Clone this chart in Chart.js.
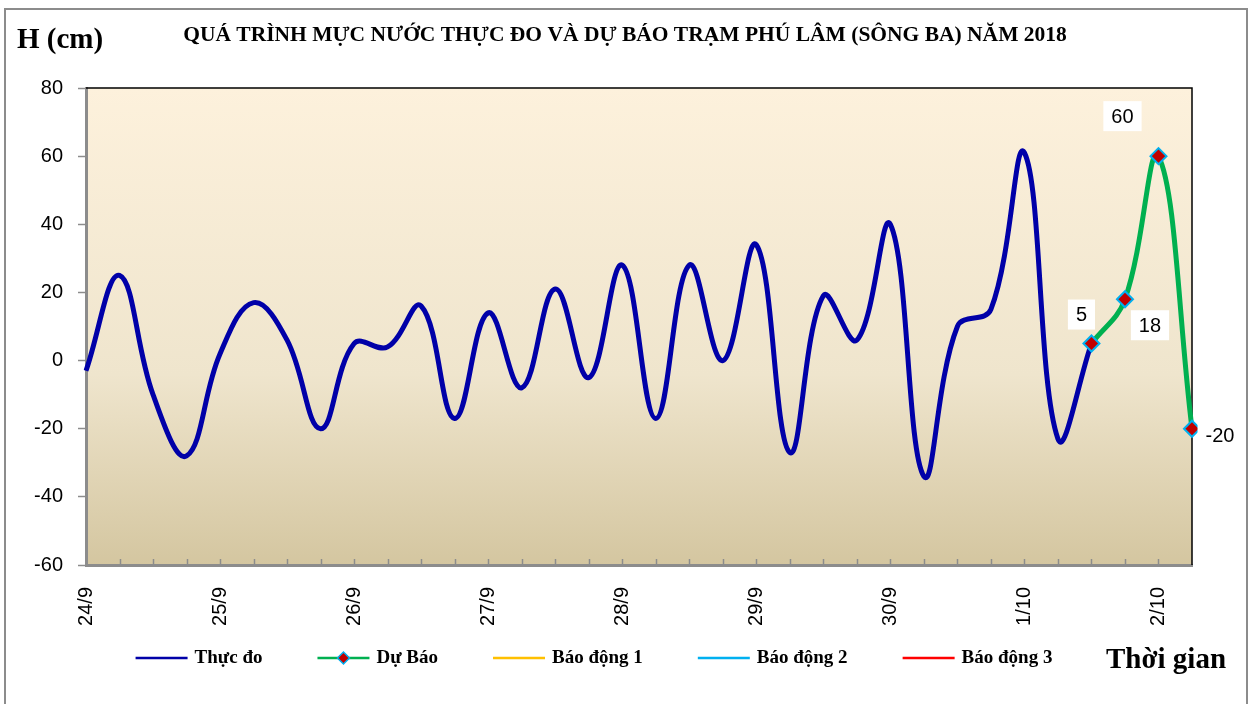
<!DOCTYPE html>
<html>
<head>
<meta charset="utf-8">
<title>Mực nước trạm Phú Lâm</title>
<script src="https://cdn.jsdelivr.net/npm/chart.js"></script>
<style>
    body { margin: 0; background: #fff; }
    .wrap { width: 1253px; height: 704px; }
</style>
</head>
<body>
<div class="wrap"><canvas id="mucNuoc" width="1253" height="704"></canvas></div>
<script>
// mốc thời gian: 6 giờ một lần, từ 24/9 00h đến 2/10 06h
const days = ['24/9', '25/9', '26/9', '27/9', '28/9', '29/9', '30/9', '1/10', '2/10'];
const hours = ['00h', '06h', '12h', '18h'];
// mực nước thực đo (cm)
const thucDo = [-3, 25, -10, -28, 2, 17, 6, -20, 5, 4, 16, -17, 14, -8, 21, -5, 28, -17,
                28, 0, 34, -27, 19, 6, 40, -34, 10, 15, 61, -23, 5];
// mực nước dự báo (cm), bắt đầu từ điểm thực đo cuối
const duBao = [5, 18, 60, -20];
const yMin = -60, yMax = 80, yStep = 20;

const labels = [];
days.forEach(d => hours.forEach(h => labels.push(d + ' ' + h)));
labels.length = thucDo.length + duBao.length - 1;

const duBaoData = Array(thucDo.length - 1).fill(null).concat(duBao);

const SERIF = '"Liberation Serif", "Times New Roman", serif';
const SANS = '"Liberation Sans", Arial, sans-serif';

function drawMarker(ctx, x, y, r) {
    ctx.beginPath();
    ctx.moveTo(x, y - r); ctx.lineTo(x + r, y); ctx.lineTo(x, y + r); ctx.lineTo(x - r, y);
    ctx.closePath();
    ctx.fillStyle = '#c00000'; ctx.fill();
    ctx.strokeStyle = '#00b0f0'; ctx.lineWidth = 1.5; ctx.stroke();
}

const decor = {
    id: 'decor',
    beforeDraw(chart) {
        const {ctx, chartArea: a} = chart;
        ctx.save();
        const grad = ctx.createLinearGradient(0, a.top, 0, a.bottom);
        grad.addColorStop(0, '#fdf1dc');
        grad.addColorStop(0.6, '#efe5cd');
        grad.addColorStop(1, '#d4c6a0');
        ctx.fillStyle = grad;
        ctx.fillRect(a.left, a.top, a.right - a.left, a.bottom - a.top);
        // khung ngoài
        ctx.strokeStyle = '#8c8c8c'; ctx.lineWidth = 2;
        ctx.strokeRect(5, 9, 1242, 720);
        ctx.restore();
    },
    beforeDatasetsDraw(chart) {
        const {ctx, chartArea: a, scales: {x}} = chart;
        ctx.save();
        ctx.strokeStyle = '#000'; ctx.lineWidth = 1.5;
        ctx.beginPath();
        ctx.moveTo(a.left, a.top); ctx.lineTo(a.right, a.top); ctx.lineTo(a.right, a.bottom);
        ctx.stroke();
        // vạch chia trục x hướng vào trong
        ctx.strokeStyle = '#8c8c8c'; ctx.lineWidth = 1.5;
        for (let i = 1; i < labels.length - 1; i++) {
            const px = Math.round(x.getPixelForValue(i)) + 0.5;
            ctx.beginPath(); ctx.moveTo(px, a.bottom - 1); ctx.lineTo(px, a.bottom - 6); ctx.stroke();
        }
        ctx.restore();
    },
    afterDraw(chart) {
        const {ctx} = chart;
        ctx.save();
        ctx.fillStyle = '#000';
        ctx.textBaseline = 'middle';
        ctx.textAlign = 'center';
        ctx.font = 'bold 21.5px ' + SERIF;
        ctx.fillText('QUÁ TRÌNH MỰC NƯỚC THỰC ĐO VÀ DỰ BÁO TRẠM PHÚ LÂM (SÔNG BA) NĂM 2018', 625, 35);
        ctx.textAlign = 'left';
        ctx.font = 'bold 29px ' + SERIF;
        ctx.fillText('H (cm)', 17, 41);
        ctx.fillText('Thời gian', 1106, 661);

        // chú giải
        const ds = chart.data.datasets;
        ctx.font = 'bold 19px ' + SERIF;
        const lineLen = 52, gapIn = 7, gapOut = 55;
        const widths = ds.map(d => lineLen + gapIn + ctx.measureText(d.label).width);
        const total = widths.reduce((s, w) => s + w, 0) + gapOut * (ds.length - 1);
        let lx = 594 - total / 2;
        const ly = 658;
        ds.forEach((d, i) => {
            ctx.strokeStyle = d.borderColor; ctx.lineWidth = 2.5;
            ctx.beginPath(); ctx.moveTo(lx, ly); ctx.lineTo(lx + lineLen, ly); ctx.stroke();
            if (d.pointStyle) drawMarker(ctx, lx + lineLen / 2, ly, 6);
            ctx.fillStyle = '#000';
            ctx.fillText(d.label, lx + lineLen + gapIn, ly);
            lx += widths[i] + gapOut;
        });

        // nhãn giá trị dự báo
        const meta = chart.getDatasetMeta(1);
        const offs = [[-10, -29], [25, 26], [-36, -40], [28, 7]];
        ctx.font = '20px ' + SANS;
        ctx.textAlign = 'center';
        duBao.forEach((v, k) => {
            const pt = meta.data[thucDo.length - 1 + k];
            const cx = pt.x + offs[k][0], cy = pt.y + offs[k][1];
            const w = ctx.measureText(String(v)).width + 16;
            ctx.fillStyle = '#fff';
            ctx.fillRect(cx - w / 2, cy - 15, w, 30);
            ctx.fillStyle = '#000';
            ctx.fillText(String(v), cx, cy + 1);
        });
        ctx.restore();
    }
};

new Chart(document.getElementById('mucNuoc'), {
    type: 'line',
    data: {
        labels: labels,
        datasets: [
            {
                label: 'Thực đo',
                data: thucDo,
                borderColor: '#0000a8',
                borderWidth: 5,
                pointRadius: 0,
                tension: 0.4,
                order: 1
            },
            {
                label: 'Dự Báo',
                data: duBaoData,
                borderColor: '#00b050',
                borderWidth: 5,
                pointStyle: 'rectRot',
                pointRadius: 8,
                pointBackgroundColor: '#c00000',
                pointBorderColor: '#00b0f0',
                pointBorderWidth: 2,
                tension: 0.4,
                clip: false,
                order: 0
            },
            { label: 'Báo động 1', data: [], borderColor: '#ffc000' },
            { label: 'Báo động 2', data: [], borderColor: '#00b0f0' },
            { label: 'Báo động 3', data: [], borderColor: '#ff0000' }
        ]
    },
    options: {
        responsive: false,
        animation: false,
        layout: { padding: { left: 0, right: 61, top: 88, bottom: 0 } },
        scales: {
            x: {
                offset: false,
                grid: { drawOnChartArea: false, drawTicks: false },
                border: { color: '#8c8c8c', width: 3 },
                afterFit: s => { s.height = 139; },
                ticks: {
                    autoSkip: false,
                    maxRotation: 90,
                    minRotation: 90,
                    padding: 22,
                    color: '#000',
                    font: { family: SANS, size: 20 },
                    callback: (v, i) => i % hours.length === 0 ? labels[i].split(' ')[0] : ''
                }
            },
            y: {
                min: yMin,
                max: yMax,
                afterFit: s => { s.width = 86; },
                grid: { drawOnChartArea: false, tickLength: 8, color: '#8c8c8c', tickWidth: 1.5 },
                border: { color: '#8c8c8c', width: 3 },
                ticks: {
                    stepSize: yStep,
                    padding: 15,
                    color: '#000',
                    font: { family: SANS, size: 20 }
                }
            }
        },
        plugins: {
            tooltip: { enabled: false },
            legend: { display: false }
        }
    },
    plugins: [decor]
});
</script>
</body>
</html>
